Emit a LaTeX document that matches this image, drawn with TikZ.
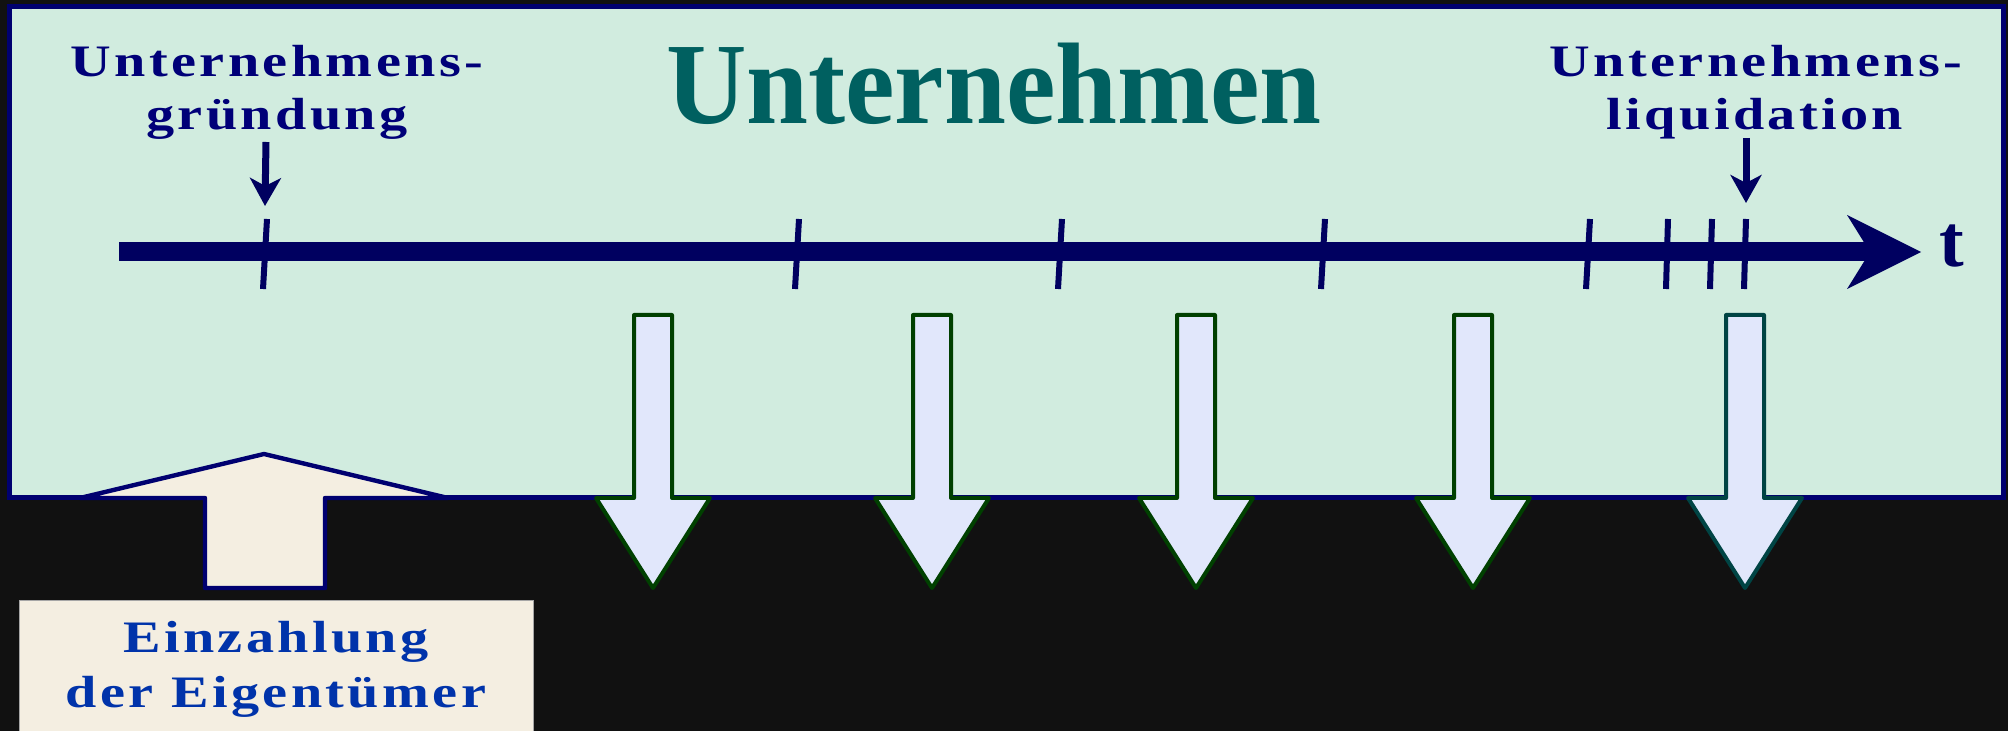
\documentclass[tikz,border=0pt]{standalone}
\usepackage{fontspec}
\setmainfont{Liberation Serif}
\newfontfamily\lblfont[LetterSpace=6]{Liberation Serif}
\usetikzlibrary{arrows.meta}
\definecolor{bgdark}{HTML}{111111}
\definecolor{mint}{HTML}{D1ECDF}
\definecolor{framenavy}{HTML}{000070}
\definecolor{axisnavy}{HTML}{000060}
\definecolor{lblnavy}{HTML}{000078}
\definecolor{titleteal}{HTML}{006060}
\definecolor{einzblue}{HTML}{0033AA}
\definecolor{cream}{HTML}{F4EEE1}
\definecolor{lavender}{HTML}{E1E7FB}
\definecolor{outgreen}{HTML}{004000}
\definecolor{outteal}{HTML}{004444}
\newcommand{\widetext}[1]{\scalebox{1.25}[1]{#1}}
\tikzset{
  lbl/.style={anchor=base, inner sep=0pt, text=lblnavy, font=\lblfont\bfseries\fontsize{22.5}{27}\selectfont},
  einztext/.style={anchor=base, inner sep=0pt, text=einzblue, font=\lblfont\bfseries\fontsize{22.5}{27}\selectfont},
  titlestyle/.style={anchor=base, inner sep=0pt, text=titleteal, font=\bfseries\fontsize{58}{64}\selectfont},
  tstyle/.style={anchor=base, inner sep=0pt, text=axisnavy, font=\bfseries\fontsize{37}{40}\selectfont},
  tickmark/.style={draw=axisnavy, line width=3pt},
  pointer/.style={draw=axisnavy, line width=3.5pt, -{Stealth[length=14pt,width=15.5pt,inset=4pt]}},
  outarrow/.style={fill=lavender, draw=outgreen, line width=2pt, line join=round},
  inarrow/.style={fill=cream, draw=framenavy, line width=2.2pt, line join=round},
}
\begin{document}
\begin{tikzpicture}[x=0.5pt,y=-0.5pt]
\useasboundingbox (0,0) rectangle (2008,731);
\fill[bgdark] (0,0) rectangle (2008,731);
% main frame
\draw[fill=mint, draw=framenavy, line width=2.5pt] (9.5,6.5) rectangle (2003,497.5);
% title
\node[titlestyle] (title) at (994,124) {\scalebox{0.96}[1]{Unternehmen}};
% labels
\node[lbl] (grA) at (277,77) {\widetext{Unternehmens-}};
\node[lbl] (grB) at (277,130) {\widetext{gründung}};
\node[lbl] (liA) at (1756,77) {\widetext{Unternehmens-}};
\node[lbl] (liB) at (1755,130) {\widetext{liquidation}};
% axis
\coordinate (axstart) at (119,252);
\coordinate (axend) at (1870,252);
\draw[axisnavy, line width=9.5pt] (axstart) -- (axend);
\fill[axisnavy] (1847,215) -- (1921,252) -- (1847,289) -- (1870,252) -- cycle;
\node[tstyle] (tlabel) at (1952,267) {t};
% ticks
\foreach \xx/\dd in {265/2,797/2,1060/2,1323/2,1588/2,1667/1,1711/1,1745/1}{
  \draw[tickmark] (\xx+\dd,219) -- (\xx-\dd,289);
}
% pointers
\coordinate (grTop) at (266,142);
\coordinate (grTip) at (265,206);
\coordinate (liTop) at (1746,138);
\coordinate (liTip) at (1746,203);
\draw[pointer] (grTop) -- (grTip);
\draw[pointer] (liTop) -- (liTip);
% outgoing arrows
\foreach \cx/\col in {653/outgreen,932/outgreen,1196/outgreen,1473/outgreen,1745/outteal}{
  \draw[outarrow, draw=\col] (\cx-19,315) -- (\cx+19,315) -- (\cx+19,498) -- (\cx+57,498)
     -- (\cx,588) -- (\cx-57,498) -- (\cx-19,498) -- cycle;
}
% incoming arrow
\draw[inarrow] (205,588) -- (205,498) -- (80,498) -- (264,454) -- (448,498)
   -- (325,498) -- (325,588) -- cycle;
% Einzahlung box
\node[fill=cream, draw=gray!70, line width=0.6pt, minimum width=257pt, minimum height=66pt, inner sep=0pt, anchor=north west] (einzbox) at (19,600) {};
\node[einztext] (einzA) at (276,653) {\widetext{Einzahlung}};
\node[einztext] (einzB) at (276,707) {\widetext{der Eigentümer}};
\end{tikzpicture}
\end{document}
